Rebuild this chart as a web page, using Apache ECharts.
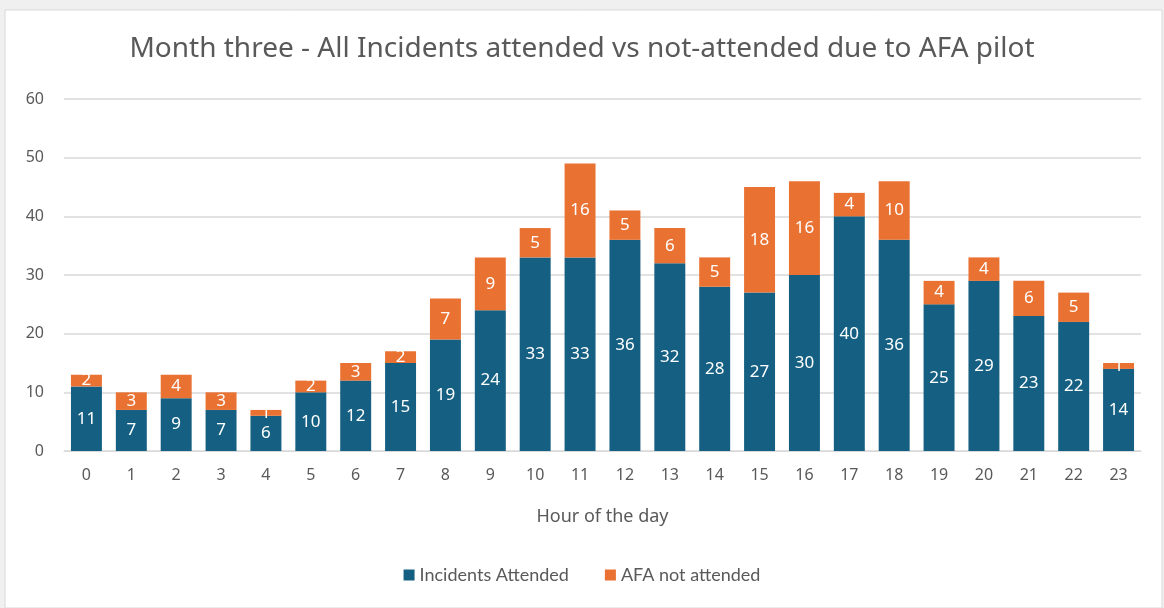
<!DOCTYPE html>
<html>
<head>
<meta charset="utf-8">
<script src="https://cdn.jsdelivr.net/npm/echarts@6/dist/echarts.min.js"></script>
<style>
  html, body { margin: 0; padding: 0; background: #f0f0f0; }
  #main { width: 1164px; height: 608px; }
</style>
</head>
<body>
<div id="main"></div>
<script>
// hours of the day
var hours = ['0','1','2','3','4','5','6','7','8','9','10','11','12','13','14','15','16','17','18','19','20','21','22','23'];
// incidents attended
var attended = [11,7,9,7,6,10,12,15,19,24,33,33,36,32,28,27,30,40,36,25,29,23,22,14];
// AFA not attended
var notAttended = [2,3,4,3,1,2,3,2,7,9,5,16,5,6,5,18,16,4,10,4,4,6,5,1];

var myChart = echarts.init(document.getElementById('main'));

var labelStyle = {
	show: true,
	position: 'inside',
	color: '#fff',
	fontSize: 17,
	fontFamily: 'Noto Sans'
};

var option = {
	backgroundColor: '#f0f0f0',
	animation: false,
	graphic: [{
		type: 'rect',
		shape: { x: 5, y: 10, width: 1157, height: 598 },
		style: { fill: '#fff', stroke: '#d9d9d9', lineWidth: 1 },
		z: -10
	}],
	title: {
		text: 'Month three - All Incidents attended vs not-attended due to AFA pilot',
		left: 'center',
		top: 30,
		textStyle: { color: '#595959', fontSize: 28, fontWeight: 'normal', fontFamily: 'Noto Sans' }
	},
	legend: {
		bottom: 19,
		left: 'center',
		itemWidth: 11,
		itemHeight: 11,
		itemGap: 36,
		icon: 'rect',
		textStyle: { color: '#595959', fontSize: 18, fontFamily: 'Lato' },
		data: ['Incidents Attended', 'AFA not attended']
	},
	grid: {
		left: 64,
		right: 23,
		top: 99,
		bottom: 157
	},
	xAxis: {
		type: 'category',
		data: hours,
		name: 'Hour of the day',
		nameLocation: 'middle',
		nameGap: 57,
		nameTextStyle: { color: '#595959', fontSize: 18, fontFamily: 'Noto Sans' },
		axisLine: { lineStyle: { color: '#d9d9d9' } },
		axisTick: { show: false },
		axisLabel: { color: '#595959', fontSize: 16, margin: 16, fontFamily: 'Noto Sans' }
	},
	yAxis: {
		type: 'value',
		min: 0,
		max: 60,
		interval: 10,
		axisLine: { show: false },
		axisTick: { show: false },
		axisLabel: { color: '#595959', fontSize: 16, margin: 20, fontFamily: 'Noto Sans' },
		splitLine: { lineStyle: { color: '#d9d9d9', width: 1.5 } }
	},
	series: [
		{
			name: 'Incidents Attended',
			type: 'bar',
			stack: 'total',
			barCategoryGap: '31%',
			itemStyle: { color: '#156082' },
			label: labelStyle,
			data: attended
		},
		{
			name: 'AFA not attended',
			type: 'bar',
			stack: 'total',
			barCategoryGap: '31%',
			itemStyle: { color: '#E97132' },
			label: labelStyle,
			data: notAttended
		}
	]
};

myChart.setOption(option);
</script>
</body>
</html>
